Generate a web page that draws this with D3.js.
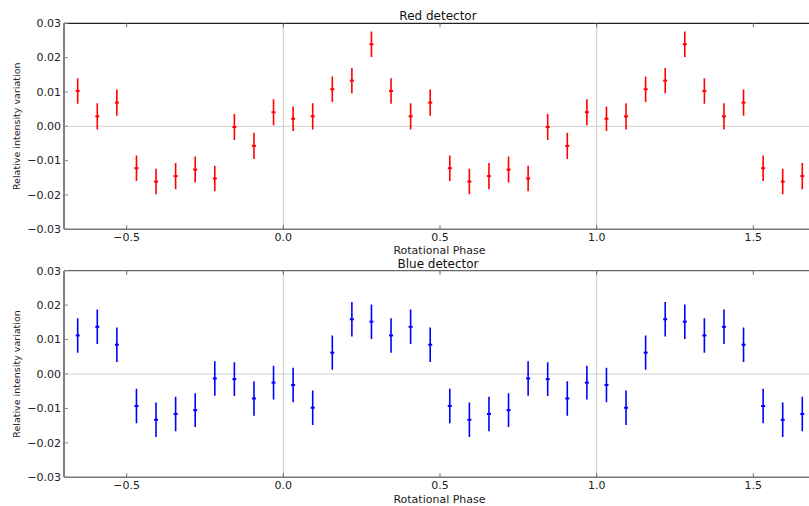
<!DOCTYPE html>
<html>
<head>
<meta charset="utf-8">
<script src="https://cdn.jsdelivr.net/npm/d3@7"></script>
<style>
  body { margin: 0; background: #fff; }
  svg { display: block; font-family: "DejaVu Sans", sans-serif; }
</style>
</head>
<body>
<svg id="chart" width="809" height="506"></svg>
<script>
// Data: 16 phase bins (folded light curve), shown repeated over -0.7 .. 1.7
const binPhases = [0.03125, 0.09375, 0.15625, 0.21875, 0.28125, 0.34375, 0.40625, 0.46875,
                   0.53125, 0.59375, 0.65625, 0.71875, 0.78125, 0.84375, 0.90625, 0.96875];
const redValues = [0.0022, 0.0029, 0.0108, 0.0133, 0.0239, 0.0103, 0.0029, 0.0069,
                   -0.0122, -0.0161, -0.0145, -0.0126, -0.0152, -0.0002, -0.0057, 0.0041];
const redErrors = [0.0036, 0.0038, 0.0037, 0.0037, 0.0037, 0.0037, 0.0038, 0.0038,
                   0.0037, 0.0037, 0.0038, 0.0038, 0.0037, 0.0038, 0.0038, 0.0038];
const blueValues = [-0.0032, -0.0098, 0.0062, 0.0159, 0.0152, 0.0112, 0.0137, 0.0085,
                    -0.0093, -0.0133, -0.0116, -0.0105, -0.0013, -0.0015, -0.0071, -0.0025];
const blueErrors = [0.0050, 0.0050, 0.0050, 0.0050, 0.0050, 0.0050, 0.0050, 0.0050,
                    0.0050, 0.0050, 0.0050, 0.0049, 0.0050, 0.0049, 0.0050, 0.0049];
const phaseShifts = [-1, 0, 1];
const xTicks = [-0.5, 0.0, 0.5, 1.0, 1.5];
const yTicks = [-0.03, -0.02, -0.01, 0.00, 0.01, 0.02, 0.03];
const refLinesX = [0, 1];

const W = 809;
const svg = d3.select("#chart");

const x = d3.scaleLinear().domain([-0.7, 1.7]).range([64, 816]);

function unfold(values, errors) {
  const pts = [];
  phaseShifts.forEach(s => {
    binPhases.forEach((p, i) => {
      const ph = p + s;
      if (ph > -0.7 && ph < 1.7) pts.push({ phase: ph, value: values[i], err: errors[i] });
    });
  });
  return pts;
}

const panels = [
  { title: "Red detector", color: "#ff0000", top: 23.3, bottom: 229.3, data: unfold(redValues, redErrors),
    titleY: 20, tickLabelDy: 11.2, xLabelY: 254, topSpine: "#222" },
  { title: "Blue detector", color: "#0000ff", top: 270.7, bottom: 477.3, data: unfold(blueValues, blueErrors),
    titleY: 268.3, tickLabelDy: 11.3, xLabelY: 502.5, topSpine: "#666" }
];

panels.forEach((pn, k) => {
  const y = d3.scaleLinear().domain([-0.03, 0.03]).range([pn.bottom, pn.top]);
  const g = svg.append("g");
  const clipId = "clip" + k;
  svg.append("clipPath").attr("id", clipId)
    .append("rect").attr("x", 64).attr("y", pn.top).attr("width", W - 64).attr("height", pn.bottom - pn.top);

  const plot = g.append("g").attr("clip-path", `url(#${clipId})`);

  // reference lines
  plot.selectAll("line.vref").data(refLinesX).enter().append("line")
    .attr("x1", d => x(d)).attr("x2", d => x(d))
    .attr("y1", pn.top).attr("y2", pn.bottom)
    .attr("stroke", "#c8c8c8").attr("stroke-width", 1);
  plot.append("line")
    .attr("x1", 64).attr("x2", W).attr("y1", y(0)).attr("y2", y(0))
    .attr("stroke", "#d0d0d0").attr("stroke-width", 1);

  // error bars
  plot.selectAll("line.err").data(pn.data).enter().append("line")
    .attr("x1", d => x(d.phase)).attr("x2", d => x(d.phase))
    .attr("y1", d => y(d.value - d.err)).attr("y2", d => y(d.value + d.err))
    .attr("stroke", pn.color).attr("stroke-width", 1.6);
  plot.selectAll("rect.pt").data(pn.data).enter().append("rect")
    .attr("x", d => x(d.phase) - 2).attr("y", d => y(d.value) - 1)
    .attr("width", 4).attr("height", 2)
    .attr("fill", pn.color);

  // spines
  g.append("line").attr("x1", 64).attr("x2", W).attr("y1", pn.top).attr("y2", pn.top)
    .attr("stroke", pn.topSpine).attr("stroke-width", 1.2);
  g.append("line").attr("x1", 64).attr("x2", W).attr("y1", pn.bottom).attr("y2", pn.bottom)
    .attr("stroke", "#777").attr("stroke-width", 1.5);
  g.append("line").attr("x1", 64).attr("x2", 64).attr("y1", pn.top).attr("y2", pn.bottom)
    .attr("stroke", "#808080").attr("stroke-width", 2);

  // ticks (inward, matplotlib classic)
  const xt = xTicks.filter(t => x(t) < W);
  g.selectAll("line.xtb").data(xt).enter().append("line")
    .attr("x1", d => x(d)).attr("x2", d => x(d))
    .attr("y1", pn.bottom).attr("y2", pn.bottom - 4)
    .attr("stroke", "#666").attr("stroke-width", 1);
  g.selectAll("line.xtt").data(xt).enter().append("line")
    .attr("x1", d => x(d)).attr("x2", d => x(d))
    .attr("y1", pn.top).attr("y2", pn.top + 4)
    .attr("stroke", "#666").attr("stroke-width", 1);
  g.selectAll("line.yt").data(yTicks).enter().append("line")
    .attr("x1", 64).attr("x2", 68)
    .attr("y1", d => y(d)).attr("y2", d => y(d))
    .attr("stroke", "#888").attr("stroke-width", 1);

  // tick labels
  const fmt = d3.format(".1f");
  g.selectAll("text.xl").data(xt).enter().append("text")
    .attr("x", d => x(d)).attr("y", pn.bottom + pn.tickLabelDy)
    .attr("text-anchor", "middle").attr("font-size", 11).attr("fill", "#222")
    .text(d => fmt(d).replace("-", "\u2212"));
  const yfmt = d3.format(".2f");
  g.selectAll("text.yl").data(yTicks).enter().append("text")
    .attr("x", 61).attr("y", d => y(d)).attr("dy", "0.35em")
    .attr("text-anchor", "end").attr("font-size", 11).attr("fill", "#222")
    .text(d => yfmt(d).replace("-", "\u2212"));

  // titles and labels
  g.append("text").attr("x", 438).attr("y", pn.titleY)
    .attr("text-anchor", "middle").attr("font-size", 12).attr("fill", "#111")
    .text(pn.title);
  g.append("text").attr("x", 439.5).attr("y", pn.xLabelY)
    .attr("text-anchor", "middle").attr("font-size", 11).attr("fill", "#222")
    .text("Rotational Phase");
  g.append("text")
    .attr("transform", `translate(19.5,${(pn.top + pn.bottom) / 2}) rotate(-90)`)
    .attr("text-anchor", "middle").attr("font-size", 9.5).attr("fill", "#222")
    .text("Relative intensity variation");
});
</script>
</body>
</html>
